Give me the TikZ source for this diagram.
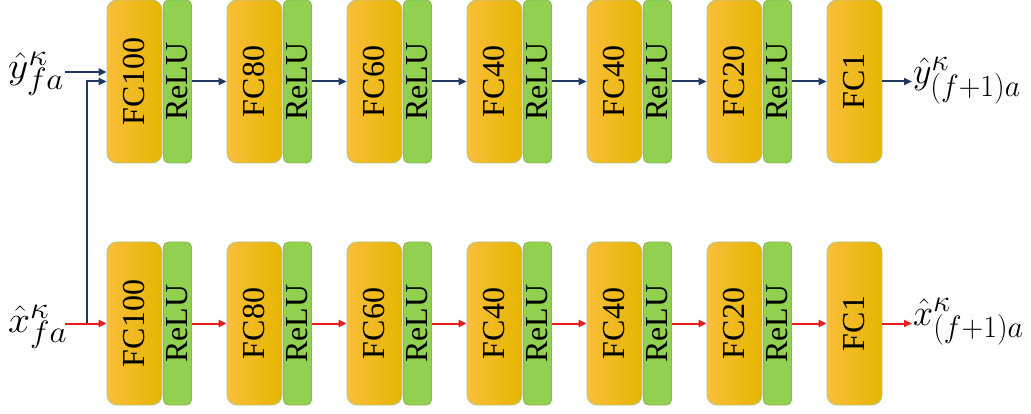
\documentclass[tikz,border=0pt]{standalone}
\usepackage{fontspec}
\setmainfont{Liberation Serif}
\usetikzlibrary{arrows.meta}
\definecolor{fcleft}{HTML}{F9BF3B}
\definecolor{fcmid}{HTML}{FFC300}
\definecolor{fcright}{HTML}{E6B500}
\definecolor{fcline}{HTML}{B4C38E}
\definecolor{relufill}{HTML}{92D050}
\definecolor{reluline}{HTML}{86B85A}
\definecolor{flowblue}{HTML}{203864}
\definecolor{flowred}{HTML}{EE1C1C}
% large math labels: horizontal and vertical scale of a 24.88pt formula
\newcommand{\biglabel}[3]{\scalebox{#1}[#2]{\fontsize{24.88}{24.88}\selectfont$#3$}}
\begin{document}
\begin{tikzpicture}[x=1pt,y=-1pt,
  fcbox/.style={rectangle, rounded corners=10pt, draw=fcline, line width=0.8pt,
    left color=fcleft, middle color=fcmid, right color=fcright,
    minimum width=55pt, minimum height=163pt, inner sep=0pt},
  relubox/.style={rectangle, rounded corners=5pt, draw=reluline, line width=0.8pt,
    fill=relufill, minimum width=28pt, minimum height=163pt, inner sep=0pt},
  layertext/.style={rotate=90, inner sep=0pt, font=\fontsize{32}{32}\selectfont},
  mathlabel/.style={anchor=base west, inner sep=0pt},
  blueflow/.style={draw=flowblue, line width=2pt, -{Triangle[length=8pt,width=7pt]}},
  redflow/.style={draw=flowred, line width=2pt, -{Triangle[length=8pt,width=7pt]}},
]
\useasboundingbox (0,0) rectangle (1031,414);

% two identical chains of fully connected layers
\foreach \row/\yc in {T/81.5, B/323.5}{
  \foreach \i/\n in {0/100,1/80,2/60,3/40,4/40,5/20,6/1}{
    \node[fcbox] (fc\row\i) at ({134.5+120*\i},\yc) {};
    \node[layertext] (fct\row\i) at (fc\row\i) {FC\n};
  }
  \foreach \i in {0,...,5}{
    \node[relubox] (re\row\i) at ({177.5+120*\i},\yc) {};
    \node[layertext] (ret\row\i) at (re\row\i) {ReLU};
  }
}

% connections between consecutive layers
\foreach \i [evaluate=\i as \j using int(\i+1)] in {0,...,5}{
  \draw[blueflow] (reT\i.east) -- (fcT\j.west);
  \draw[redflow] (reB\i.east) -- (fcB\j.west);
}

% inputs
\node[mathlabel] (ylab) at (8,79) {\biglabel{1.59}{1.49}{\hat{y}^{\kappa}_{fa}}};
\node[mathlabel] (xlab) at (8,332) {\biglabel{1.59}{1.49}{\hat{x}^{\kappa}_{fa}}};
\coordinate (yin) at (65,72);
\coordinate (xin) at (65,323.5);
\coordinate (branch) at (87,323.5);
\draw[blueflow] (yin) -- ([yshift=9.5pt]fcT0.west);
\draw[blueflow] (branch) |- (fcT0.west);
\draw[redflow] (xin) -- (fcB0.west);

% outputs
\coordinate (yout) at (912,81.5);
\coordinate (xout) at (912,323.5);
\draw[blueflow] (fcT6.east) -- (yout);
\draw[redflow] (fcB6.east) -- (xout);
\node[mathlabel] (yolab) at (913,84) {\biglabel{1.45}{1.49}{\hat{y}^{\kappa}_{(f+1)a}}};
\node[mathlabel] (xolab) at (913,325) {\biglabel{1.45}{1.49}{\hat{x}^{\kappa}_{(f+1)a}}};
\end{tikzpicture}
\end{document}
